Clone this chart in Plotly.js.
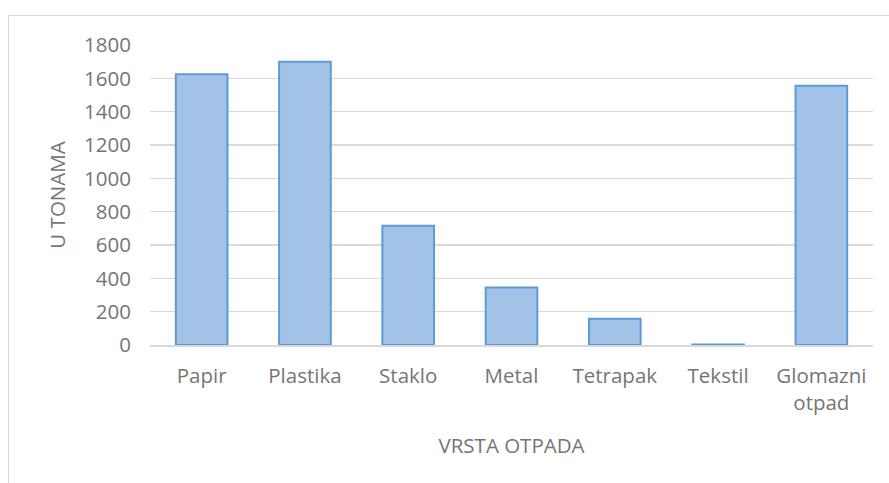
<!DOCTYPE html>
<html>
<head>
<meta charset="utf-8">
<script src="https://cdn.plot.ly/plotly-3.0.1.min.js"></script>
<style>
html,body{margin:0;padding:0;background:#fff;overflow:hidden;}
#frame{position:absolute;left:8px;top:15px;width:1000px;height:600px;border-top:1.5px solid #d9d9d9;border-left:1.5px solid #d9d9d9;}
#chart{position:absolute;left:0;top:0;width:889px;height:483px;}
</style>
</head>
<body>
<div id="frame"></div>
<div id="chart"></div>
<script>
const categories = ["Papir", "Plastika", "Staklo", "Metal", "Tetrapak", "Tekstil", "Glomazni<br>otpad"];
const values = [1625, 1700, 715, 345, 158, 3, 1555];
const yTicks = [0, 200, 400, 600, 800, 1000, 1200, 1400, 1600, 1800];

const font = {family: "Open Sans, sans-serif", size: 20.5, color: "#757575"};

Plotly.newPlot("chart", [{
  type: "bar",
  x: categories,
  y: values,
  marker: {color: "#a3c2e8", line: {color: "#5b9bd5", width: 2}},
  hoverinfo: "x+y"
}], {
  width: 889, height: 483,
  margin: {l: 150, r: 16, t: 45, b: 138},
  paper_bgcolor: "rgba(0,0,0,0)",
  plot_bgcolor: "rgba(0,0,0,0)",
  bargap: 0.5,
  showlegend: false,
  font: font,
  xaxis: {
    type: "category",
    showgrid: false,
    showline: true, linecolor: "#d9d9d9", linewidth: 1.5,
    ticks: "", ticklabelstandoff: 12,
    tickfont: font,
    title: {text: "VRSTA OTPADA", font: font, standoff: 24}
  },
  yaxis: {
    range: [0, 1800],
    tickvals: yTicks,
    showgrid: true, gridcolor: "#d9d9d9", gridwidth: 1.5,
    zeroline: false, showline: false,
    ticks: "", ticklabelstandoff: 18,
    tickfont: font,
    title: {text: "U TONAMA", font: font, standoff: 12}
  }
}, {displayModeBar: false, staticPlot: true});
</script>
</body>
</html>
